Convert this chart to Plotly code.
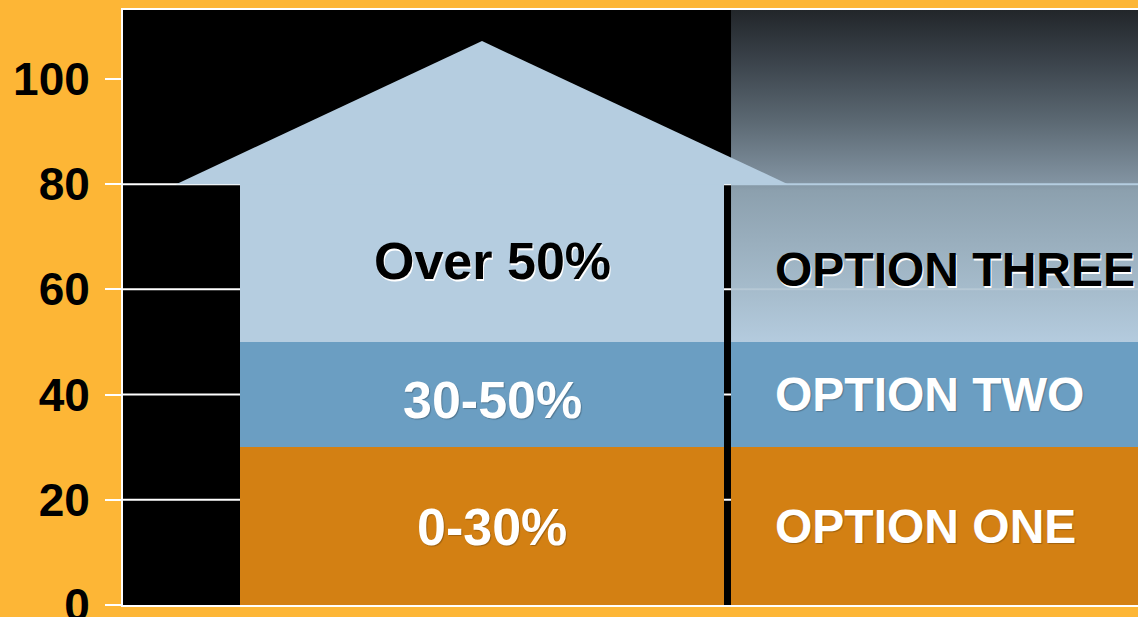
import plotly.graph_objects as go

# ---- data ----
bar_positions = [0, 1]
band_names = ["0-30%", "30-50%", "Over 50%"]
band_one = [30, 30]        # 0-30 band, both columns
band_two = [20, 20]        # 30-50 band, both columns
band_three_left = [30]     # 50-80 band, left column only
option_labels = ["OPTION ONE", "OPTION TWO", "OPTION THREE"]
roof_peak = 107.2
y_ticks = [0, 20, 40, 60, 80, 100]
grid_vals = [20, 40, 60, 80]
y_max = 113.1

# ---- styles ----
ORANGE = "#D38013"
BLUE = "#6B9EC2"
LIGHT = "#B5CDE0"
PAPER = "#FDB636"
BAR_W = 0.9857
FONT = "Liberation Sans, Arial, sans-serif"

x_lo, x_hi = -0.7312, 1.336
roof_half = 0.623

fig = go.Figure()

# right-panel gradient (above the 50 level)
x_left_right = bar_positions[1] - BAR_W / 2
base_top = band_one[1] + band_two[1]
fig.add_trace(go.Scatter(
    x=[x_left_right, 1.6, 1.6, x_left_right, x_left_right],
    y=[base_top, base_top, y_max + 5, y_max + 5, base_top],
    mode="lines", line=dict(width=0), fill="toself",
    fillgradient=dict(type="vertical", start=base_top, stop=y_max,
                      colorscale=[[0, "#b4cbde"], [0.154, "#a6bccc"], [0.456, "#8ca0ae"],
                                  [0.486, "#8192a0"], [0.668, "#5b6872"], [0.849, "#3a424a"],
                                  [1, "#22262a"]]),
    hoverinfo="skip", showlegend=False))

fig.add_trace(go.Bar(x=bar_positions, y=band_one, name=band_names[0],
                     marker=dict(color=ORANGE, line=dict(width=0)), width=BAR_W))
fig.add_trace(go.Bar(x=bar_positions, y=band_two, name=band_names[1],
                     marker=dict(color=BLUE, line=dict(width=0)), width=BAR_W))
fig.add_trace(go.Bar(x=bar_positions[:1], y=band_three_left, name=band_names[2],
                     marker=dict(color=LIGHT, line=dict(width=0)), width=BAR_W))

# roof
roof_base = band_one[0] + band_two[0] + band_three_left[0]
fig.add_trace(go.Scatter(
    x=[bar_positions[0] - roof_half, bar_positions[0], bar_positions[0] + roof_half, bar_positions[0] - roof_half],
    y=[roof_base, roof_peak, roof_base, roof_base],
    mode="lines", line=dict(width=0), fill="toself", fillcolor=LIGHT,
    hoverinfo="skip", showlegend=False))

shapes = []
# gridlines (behind bars)
for g in grid_vals:
    shapes.append(dict(type="line", xref="paper", yref="y", x0=0, x1=1, y0=g, y1=g,
                       line=dict(color="white", width=2), layer="below"))
# light lines across the right panel
shapes.append(dict(type="line", xref="x", yref="y", x0=x_left_right, x1=1.6, y0=roof_base, y1=roof_base,
                   line=dict(color=LIGHT, width=2), layer="above"))
shapes.append(dict(type="line", xref="x", yref="y", x0=x_left_right, x1=1.6, y0=60, y1=60,
                   line=dict(color="rgba(255,255,255,0.18)", width=2), layer="above"))

annotations = []
mids = [band_one[0] / 2, band_one[0] + band_two[0] / 2, band_one[0] + band_two[0] + band_three_left[0] / 2]
colors = ["white", "white", "black"]
shadows = ["1px 1px 1px rgba(0,0,0,0.25)", "1px 1px 1px rgba(0,0,0,0.25)", "1px 2px 0px white"]
left_yshift = [-1, -5, 2]
for name, m, c, s, ys in zip(band_names, mids, colors, shadows, left_yshift):
    annotations.append(dict(x=bar_positions[0], y=m, text=f"<b>{name}</b>", showarrow=False,
                            xref="x", yref="y", xanchor="center", yanchor="middle", xshift=10, yshift=ys,
                            font=dict(family=FONT, size=52, color=c, shadow=s)))
yshifts = [0, 0, -6]
for lab, m, c, s, ys in zip(option_labels, mids, colors, shadows, yshifts):
    annotations.append(dict(x=x_left_right, y=m, text=f"<b>{lab}</b>", showarrow=False,
                            xref="x", yref="y", xanchor="left", yanchor="middle", xshift=42, yshift=ys,
                            font=dict(family=FONT, size=48, color=c, shadow=s)))

fig.update_layout(
    width=1138, height=617,
    margin=dict(l=123, r=0, t=10, b=12, autoexpand=False),
    paper_bgcolor=PAPER, plot_bgcolor="black",
    barmode="stack", showlegend=False,
    shapes=shapes, annotations=annotations,
    xaxis=dict(range=[x_lo, x_hi], showgrid=False, zeroline=False, showticklabels=False,
               ticks="", showline=True, mirror=True, linecolor="white", linewidth=2,
               fixedrange=True, automargin=False),
    yaxis=dict(range=[0, y_max], tickvals=y_ticks, showgrid=False, zeroline=False,
               ticks="outside", ticklen=16, tickwidth=2, tickcolor="white",
               showline=True, linecolor="white", linewidth=2,
               tickfont=dict(family=FONT, size=46, color="black", weight="bold"),
               ticklabelstandoff=6, ticklabeloverflow="allow", fixedrange=True, automargin=False),
)

fig.write_html("out.html", config={"displayModeBar": False},
               post_script="document.body.style.margin='0';document.body.style.overflow='hidden';")
